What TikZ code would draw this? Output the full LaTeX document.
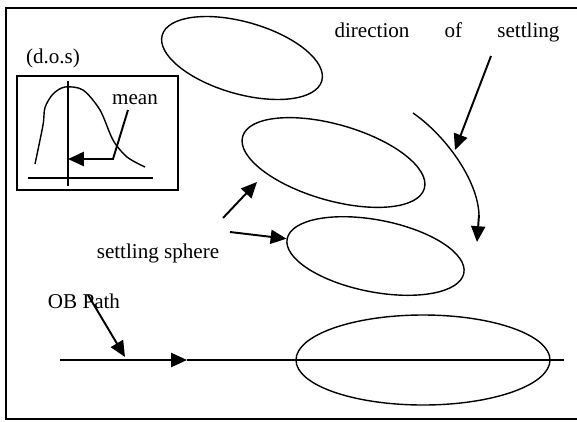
\documentclass[tikz,border=0pt]{standalone}
\usepackage{fontspec}
\setmainfont{Liberation Serif}
\usepackage{tikz}
\usetikzlibrary{arrows.meta,shapes.geometric}

\tikzset{
  pfeil/.style={line width=1.1pt,-{Triangle[length=9pt,width=8pt]}},
  sphere/.style={draw,ellipse,line width=0.8pt,inner sep=0pt}
}

\begin{document}
\begin{tikzpicture}[font=\fontsize{12}{14}\selectfont]
\useasboundingbox (0cm,0cm) rectangle (11.54cm,-8.42cm);
\draw[line width=1.1pt] (11.7cm,-0.16cm) -- (0.12cm,-0.16cm) -- (0.12cm,-8.38cm) -- (11.7cm,-8.38cm);
% spheres
\node[sphere,minimum width=3.32cm,minimum height=1.44cm,rotate=-16] (e1) at (4.84cm,-1.16cm) {};
\node[sphere,minimum width=3.78cm,minimum height=1.52cm,rotate=-16] (e2) at (6.67cm,-3.25cm) {};
\node[sphere,minimum width=3.6cm,minimum height=1.44cm,rotate=-11] (e3) at (7.51cm,-5.12cm) {};
\node[sphere,minimum width=5.08cm,minimum height=1.8cm] (e4) at (8.46cm,-7.2cm) {};
% labels
\node (dos) at (1.06cm,-1.16cm) {(d.o.s)};
\node (mean) at (2.7cm,-2.0cm) {mean};
\node (sphere) at (3.16cm,-5.06cm) {settling sphere};
\node (ob) at (1.68cm,-6.02cm) {OB Path};
\node (dir) at (8.94cm,-0.64cm) {\makebox[4.5cm][s]{direction of settling}};
% distribution box
\draw[line width=0.8pt] (0.34cm,-1.52cm) rectangle (3.56cm,-3.8cm);
\draw[line width=0.8pt] (0.56cm,-3.56cm) -- (3.06cm,-3.56cm);
\draw[line width=0.8pt] (1.36cm,-1.62cm) -- (1.36cm,-3.72cm);
\draw[line width=0.8pt] plot[smooth] coordinates {(0.7cm,-3.28cm) (0.86cm,-2.5cm) (0.9cm,-2.15cm) (1.06cm,-1.88cm) (1.3cm,-1.74cm) (1.66cm,-1.8cm) (2.0cm,-2.2cm) (2.26cm,-2.8cm) (2.54cm,-3.14cm) (2.9cm,-3.34cm)};
\coordinate (m1) at (2.56cm,-2.2cm);
\coordinate (m2) at (2.26cm,-3.18cm);
\coordinate (m3) at (1.36cm,-3.18cm);
\draw[pfeil] (m1) -- (m2) -- (m3);
% arrows to the spheres
\coordinate (s1) at (4.46cm,-4.36cm);
\coordinate (t1) at (5.14cm,-3.64cm);
\coordinate (s2) at (4.6cm,-4.64cm);
\draw[pfeil] (s1) -- (t1);
\draw[pfeil] (s2) -- (e3.west);
% OB path
\coordinate (p1) at (1.2cm,-7.2cm);
\coordinate (p2) at (3.74cm,-7.2cm);
\coordinate (p3) at (11.28cm,-7.2cm);
\draw[pfeil] (p1) -- (p2);
\draw[line width=1pt] (p2) -- (p3);
\coordinate (o1) at (1.76cm,-5.9cm);
\coordinate (o2) at (2.5cm,-7.14cm);
\draw[pfeil] (o1) -- (o2);
% direction of settling
\coordinate (a1) at (8.26cm,-2.26cm);
\coordinate (a2) at (9.58cm,-4.3cm);
\coordinate (a3) at (9.54cm,-4.84cm);
\draw[line width=0.8pt] (a1) .. controls (8.9cm,-2.7cm) and (9.56cm,-3.6cm) .. (a2);
\draw[pfeil] (a2) -- (a3);
\coordinate (d1) at (9.82cm,-1.12cm);
\coordinate (d2) at (9.1cm,-3.0cm);
\draw[pfeil] (d1) -- (d2);
\end{tikzpicture}
\end{document}
